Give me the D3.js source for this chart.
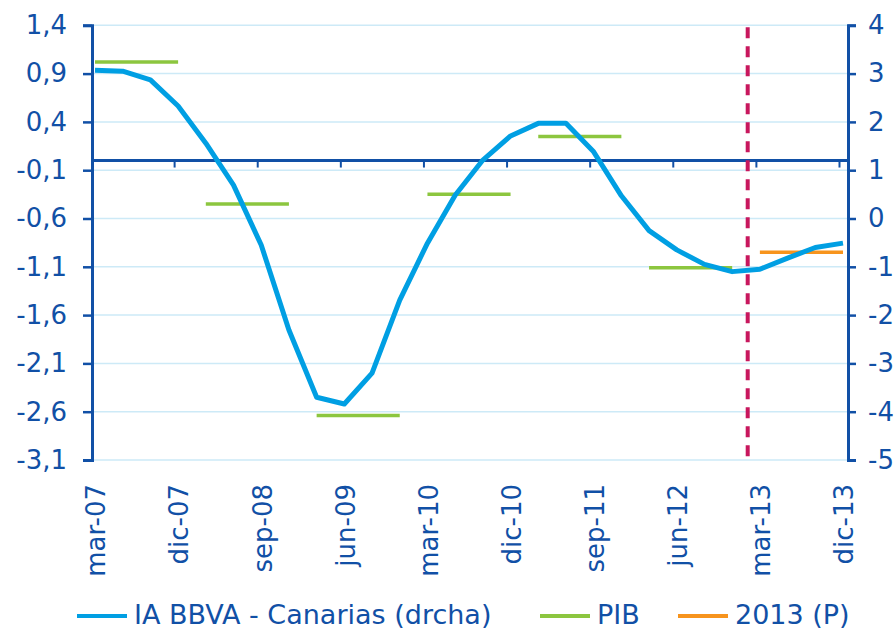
<!DOCTYPE html>
<html>
<head>
<meta charset="utf-8">
<script src="https://cdn.jsdelivr.net/npm/d3@7"></script>
<style>
  body { margin: 0; background: #fff; }
  svg text { font-family: "DejaVu Sans", sans-serif; fill: #1150a6; }
</style>
</head>
<body>
<svg id="chart" width="895" height="633"></svg>
<script>
// quarters, mar-07 .. dic-13
var quarters = ["mar-07","jun-07","sep-07","dic-07","mar-08","jun-08","sep-08","dic-08",
  "mar-09","jun-09","sep-09","dic-09","mar-10","jun-10","sep-10","dic-10",
  "mar-11","jun-11","sep-11","dic-11","mar-12","jun-12","sep-12","dic-12",
  "mar-13","jun-13","sep-13","dic-13"];

// IA BBVA - Canarias (right axis)
var iaBBVA = [3.07, 3.05, 2.87, 2.33, 1.56, 0.69, -0.55, -2.31,
  -3.70, -3.84, -3.20, -1.69, -0.51, 0.48, 1.21, 1.71,
  1.97, 1.97, 1.38, 0.47, -0.25, -0.65, -0.95, -1.10,
  -1.05, -0.82, -0.60, -0.51];

// PIB annual (left axis), each spans mar..dic of its year
var pibYears = [2007, 2008, 2009, 2010, 2011, 2012];
var pibValues = [1.02, -0.45, -2.64, -0.35, 0.25, -1.11];
var forecastYears = [2013];
var forecastValues = [-0.95];

var leftTicks = [1.4, 0.9, 0.4, -0.1, -0.6, -1.1, -1.6, -2.1, -2.6, -3.1];
var rightTicks = [4, 3, 2, 1, 0, -1, -2, -3, -4, -5];
var labelEvery = 3;
var forecastStart = 23.56; // quarter index of the vertical dashed line

var blue = "#1150a6";

var svg = d3.select("#chart");

var x = d3.scaleLinear().domain([0, quarters.length - 1]).range([95, 843]);
var yL = d3.scaleLinear().domain([-3.1, 1.4]).range([460, 25.3]);
var yR = d3.scaleLinear().domain([-5, 4]).range([460, 25.3]);

var plotLeft = 92, plotRight = 848;

// gridlines
svg.append("g").selectAll("line").data(leftTicks).join("line")
  .attr("x1", plotLeft).attr("x2", plotRight)
  .attr("y1", d => yL(d)).attr("y2", d => yL(d))
  .attr("stroke", "#cdeaf7").attr("stroke-width", 1.5);

// left axis
var fmt = d3.format(".1f");
var leftAxis = svg.append("g").attr("transform", "translate(" + plotLeft + ",0)")
  .call(d3.axisLeft(yL).tickValues(leftTicks).tickSize(9).tickPadding(16)
    .tickFormat(d => fmt(d).replace(".", ",").replace("−", "-")));
// right axis
var rightAxis = svg.append("g").attr("transform", "translate(" + plotRight + ",0)")
  .call(d3.axisRight(yR).tickValues(rightTicks).tickSize(8).tickPadding(12)
    .tickFormat(d => String(d)));

[leftAxis, rightAxis].forEach(function (g) {
  g.select(".domain").attr("stroke", blue).attr("stroke-width", 3);
  g.selectAll(".tick line").attr("stroke", blue).attr("stroke-width", 2.5);
  g.selectAll(".tick text").attr("fill", blue).style("font-size", "26px")
    .style("font-family", "DejaVu Sans, sans-serif");
});

// x axis line at left-axis zero with tick marks
var xTickIdx = d3.range(labelEvery, quarters.length, labelEvery);
svg.append("line")
  .attr("x1", plotLeft).attr("x2", plotRight)
  .attr("y1", yL(0)).attr("y2", yL(0))
  .attr("stroke", blue).attr("stroke-width", 3);
svg.append("g").selectAll("line").data(xTickIdx).join("line")
  .attr("x1", d => x(d) - 3.5).attr("x2", d => x(d) - 3.5)
  .attr("y1", yL(0)).attr("y2", yL(0) + 7)
  .attr("stroke", blue).attr("stroke-width", 2);

// x labels (rotated)
var labelIdx = d3.range(0, quarters.length, labelEvery);
svg.append("g").selectAll("text").data(labelIdx).join("text")
  .attr("transform", d => "translate(" + (x(d) + 1) + ",484) rotate(-90)")
  .attr("text-anchor", "end")
  .attr("dy", "0.36em")
  .style("font-size", "26px")
  .text(d => quarters[d]);

// forecast divider
svg.append("line")
  .attr("x1", x(forecastStart)).attr("x2", x(forecastStart))
  .attr("y1", yR(4) + 2).attr("y2", yR(-5))
  .attr("stroke", "#c8175d").attr("stroke-width", 4)
  .attr("stroke-dasharray", "11,8");

// PIB segments
svg.append("g").selectAll("line").data(pibValues).join("line")
  .attr("x1", (d, i) => x((pibYears[i] - 2007) * 4))
  .attr("x2", (d, i) => x((pibYears[i] - 2007) * 4 + 3))
  .attr("y1", d => yL(d)).attr("y2", d => yL(d))
  .attr("stroke", "#8cc63f").attr("stroke-width", 3.5);

svg.append("g").selectAll("line").data(forecastValues).join("line")
  .attr("x1", (d, i) => x((forecastYears[i] - 2007) * 4))
  .attr("x2", (d, i) => x((forecastYears[i] - 2007) * 4 + 3))
  .attr("y1", d => yL(d)).attr("y2", d => yL(d))
  .attr("stroke", "#f7941d").attr("stroke-width", 3.5);

// IA BBVA line
var line = d3.line().x((d, i) => x(i)).y(d => yR(d));
svg.append("path").datum(iaBBVA)
  .attr("d", line)
  .attr("fill", "none")
  .attr("stroke", "#009fe3")
  .attr("stroke-width", 5)
  .attr("stroke-linejoin", "round");

// legend
var legendItems = [
  { label: "IA BBVA - Canarias (drcha)", color: "#009fe3", x: 77 },
  { label: "PIB", color: "#8cc63f", x: 540 },
  { label: "2013 (P)", color: "#f7941d", x: 678 }
];
var leg = svg.append("g").selectAll("g").data(legendItems).join("g")
  .attr("transform", d => "translate(" + d.x + ",0)");
leg.append("line")
  .attr("x1", 0).attr("x2", 50).attr("y1", 616).attr("y2", 616)
  .attr("stroke", d => d.color).attr("stroke-width", 4);
leg.append("text")
  .attr("x", 57).attr("y", 624)
  .style("font-size", "27px")
  .text(d => d.label);
</script>
</body>
</html>
